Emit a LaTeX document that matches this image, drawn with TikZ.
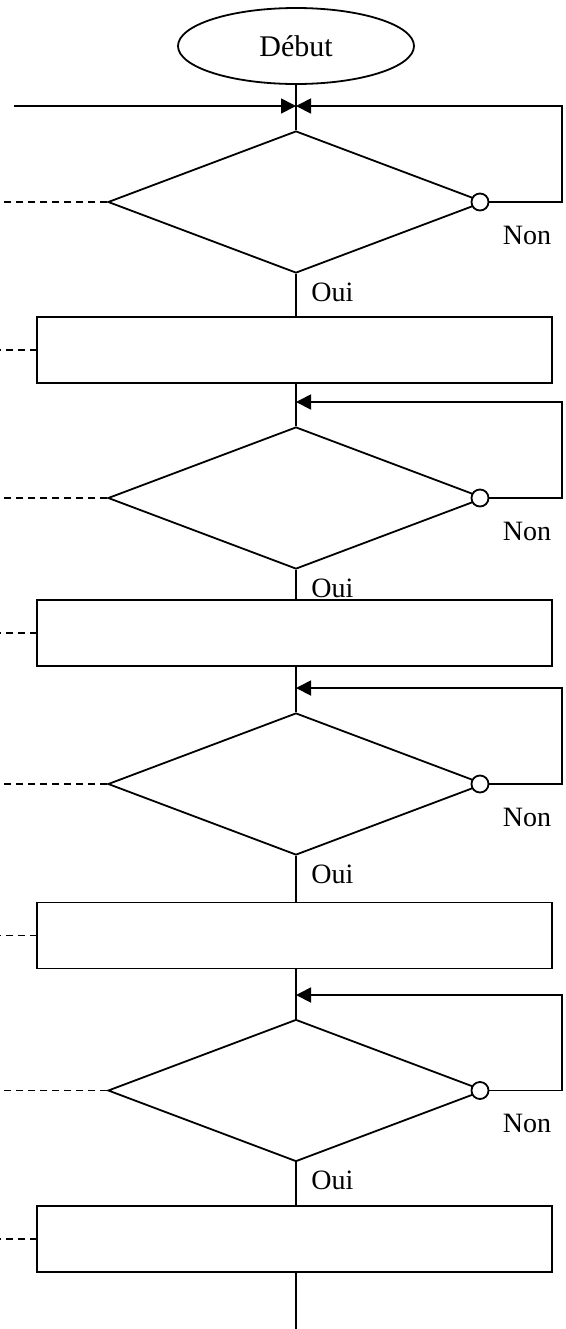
\documentclass[tikz,border=0pt]{standalone}
\usepackage{fontspec}
\setmainfont{Liberation Serif}
\usetikzlibrary{shapes.geometric,arrows.meta}
\tikzset{
  trait/.style={line width=0.9pt},
  fleche/.style={trait,-{Triangle[length=7.5pt,width=7.5pt]}},
  pointille/.style={line width=0.8pt,dash pattern=on 3.5pt off 2.5pt},
  dia/.style={diamond,draw,line width=0.9pt,minimum width=188pt,minimum height=71pt,inner sep=0pt},
  rond/.style={circle,draw,fill=white,line width=0.9pt,minimum size=8.5pt,inner sep=0pt},
  boite/.style={rectangle,draw,line width=0.9pt,minimum width=257.5pt,minimum height=33pt,inner sep=0pt,outer sep=0pt},
  debut/.style={ellipse,draw,line width=0.9pt,minimum width=118pt,minimum height=38pt,inner sep=0pt,font=\fontsize{15}{17}\selectfont},
  lbl/.style={inner sep=0pt,font=\fontsize{14}{16}\selectfont}
}
\begin{document}
\begin{tikzpicture}[x=0.5pt,y=-0.5pt]
\useasboundingbox (0,0) rectangle (566,1329);
\node[debut] (start) at (296,46) {Début};
\coordinate (in) at (14,106);
\coordinate (end) at (296,1329);
\foreach \i/\ay/\dm/\bm in {1/106/202/350, 2/402/498/633, 3/688/784/935.5, 4/995/1090.5/1239} {
  \node[dia] (d\i) at (296,\dm) {};
  \node[rond] (c\i) at (480,\dm) {};
  \node[boite] (b\i) at (294.5,\bm) {};
  \coordinate (j\i) at (296,\ay);
  \coordinate (r\i) at (562,\ay);
  \coordinate (l\i) at (0,\dm);
  \coordinate (lb\i) at (0,\bm);
  \node[lbl,anchor=base] (non\i) at (527,\dm+42) {Non};
  \node[lbl,anchor=base west] (oui\i) at (311,\dm+99) {Oui};
  \draw[pointille] (d\i.west) -- (l\i);
  \draw[pointille] (b\i.west) -- (lb\i);
  \draw[trait] (d\i.south) -- (d\i.south |- b\i.north);
  \draw[fleche] (c\i.east) -| (r\i) -- (j\i);
  \draw[trait] (j\i) -- (d\i.north);
}
\draw[trait] (start.south) -- (j1);
\draw[fleche] (in) -- (j1);
\draw[trait] (j2 |- b1.south) -- (j2);
\draw[trait] (j3 |- b2.south) -- (j3);
\draw[trait] (j4 |- b3.south) -- (j4);
\draw[trait] (end |- b4.south) -- (end);
\end{tikzpicture}
\end{document}
